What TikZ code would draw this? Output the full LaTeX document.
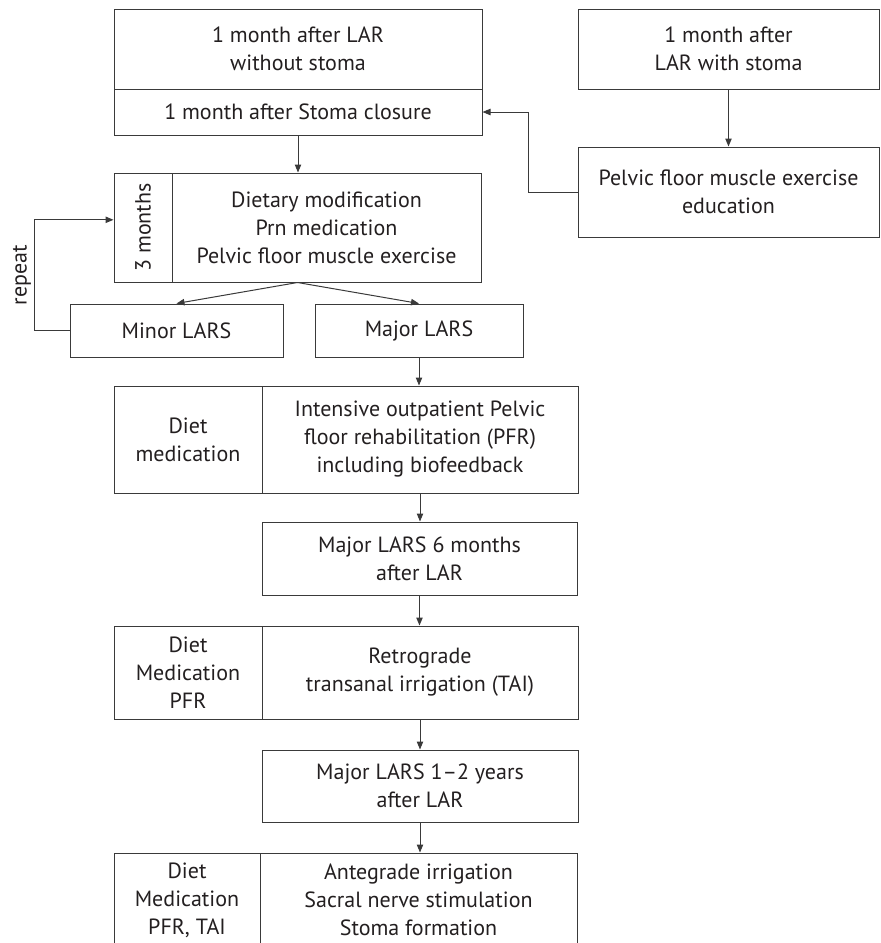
\documentclass[tikz,border=0pt]{standalone}
\usepackage{fontspec}
\setmainfont{PT Sans}
\usetikzlibrary{arrows.meta,calc}
\definecolor{edge}{HTML}{3A3A3A}
\definecolor{ink}{HTML}{231F20}
\tikzset{cell/.style={draw=edge,line width=.5pt,align=center,inner sep=0pt,text=ink,font=\fontsize{11}{14}\selectfont},
  link/.style={draw=edge,line width=.5pt,-{Triangle[length=4pt,width=3.2pt]}}}
\begin{document}
\begin{tikzpicture}[x=.5pt,y=-.5pt]
\clip (0,0) rectangle (880,943);
\node[cell,minimum width=184pt,minimum height=40pt] (lar) at (298,49) {1 month after LAR\\without stoma};
\node[cell,minimum width=184pt,minimum height=23pt] (closure) at (298,112) {1 month after Stoma closure};
\node[cell,minimum width=150.5pt,minimum height=40pt] (stoma) at (728.5,49) {1 month after\\LAR with stoma};
\node[cell,minimum width=150.5pt,minimum height=45pt] (edu) at (728.5,192) {Pelvic floor muscle exercise\\education};
\node[cell,minimum width=29pt,minimum height=54.5pt] (months) at (143,227.5) {\rotatebox{90}{3 months}};
\node[cell,minimum width=154.5pt,minimum height=54.5pt] (care) at (326.5,227.5) {Dietary modification\\Prn medication\\Pelvic floor muscle exercise};
\node[cell,minimum width=106.5pt,minimum height=26.5pt] (minor) at (176.5,330.5) {Minor LARS};
\node[cell,minimum width=104pt,minimum height=26.5pt] (major) at (419,330.5) {Major LARS};
\node[cell,minimum width=74pt,minimum height=53.5pt] (diet2) at (188,439.5) {Diet\\medication};
\node[cell,minimum width=158pt,minimum height=53.5pt] (pfr) at (420,439.5) {Intensive outpatient Pelvic\\floor rehabilitation (PFR)\\including biofeedback};
\node[cell,minimum width=157.5pt,minimum height=36.5pt] (six) at (419.5,558.5) {Major LARS 6 months\\after LAR};
\node[cell,minimum width=74pt,minimum height=46.5pt] (diet3) at (188,672.5) {Diet\\Medication\\PFR};
\node[cell,minimum width=158pt,minimum height=46.5pt] (tai) at (420,672.5) {Retrograde\\transanal irrigation (TAI)};
\node[cell,minimum width=158pt,minimum height=36pt] (years) at (420,786) {Major LARS 1--2 years\\after LAR};
\node[cell,minimum width=73pt,minimum height=47pt] (diet4) at (187,900) {Diet\\Medication\\PFR, TAI};
\node[cell,minimum width=158.5pt,minimum height=47pt] (last) at (418.5,900) {Antegrade irrigation\\Sacral nerve stimulation\\Stoma formation};
\node[rotate=90,text=ink,font=\fontsize{11}{14}\selectfont] (rep) at (22,275) {repeat};
\coordinate (split) at ($(months.south west)!.5!(care.south east)$);
\draw[link] (closure.south) -- (care.north -| closure.south);
\draw[link] (split) -- (minor.north);
\draw[link] (split) -- (major.north);
\draw[link] (stoma) -- (edu);
\draw[link] (edu.west) -- ++(-49,0) |- (closure.east);
\draw[link] (minor.west) -- ++(-35,0) |- ($(months.north west)!.43!(months.south west)$);
\foreach \a/\b in {major/pfr,pfr/six,six/tai,tai/years,years/last}
 \draw[link] (\a.south) -- (\b.north -| \a.south);
\end{tikzpicture}
\end{document}
